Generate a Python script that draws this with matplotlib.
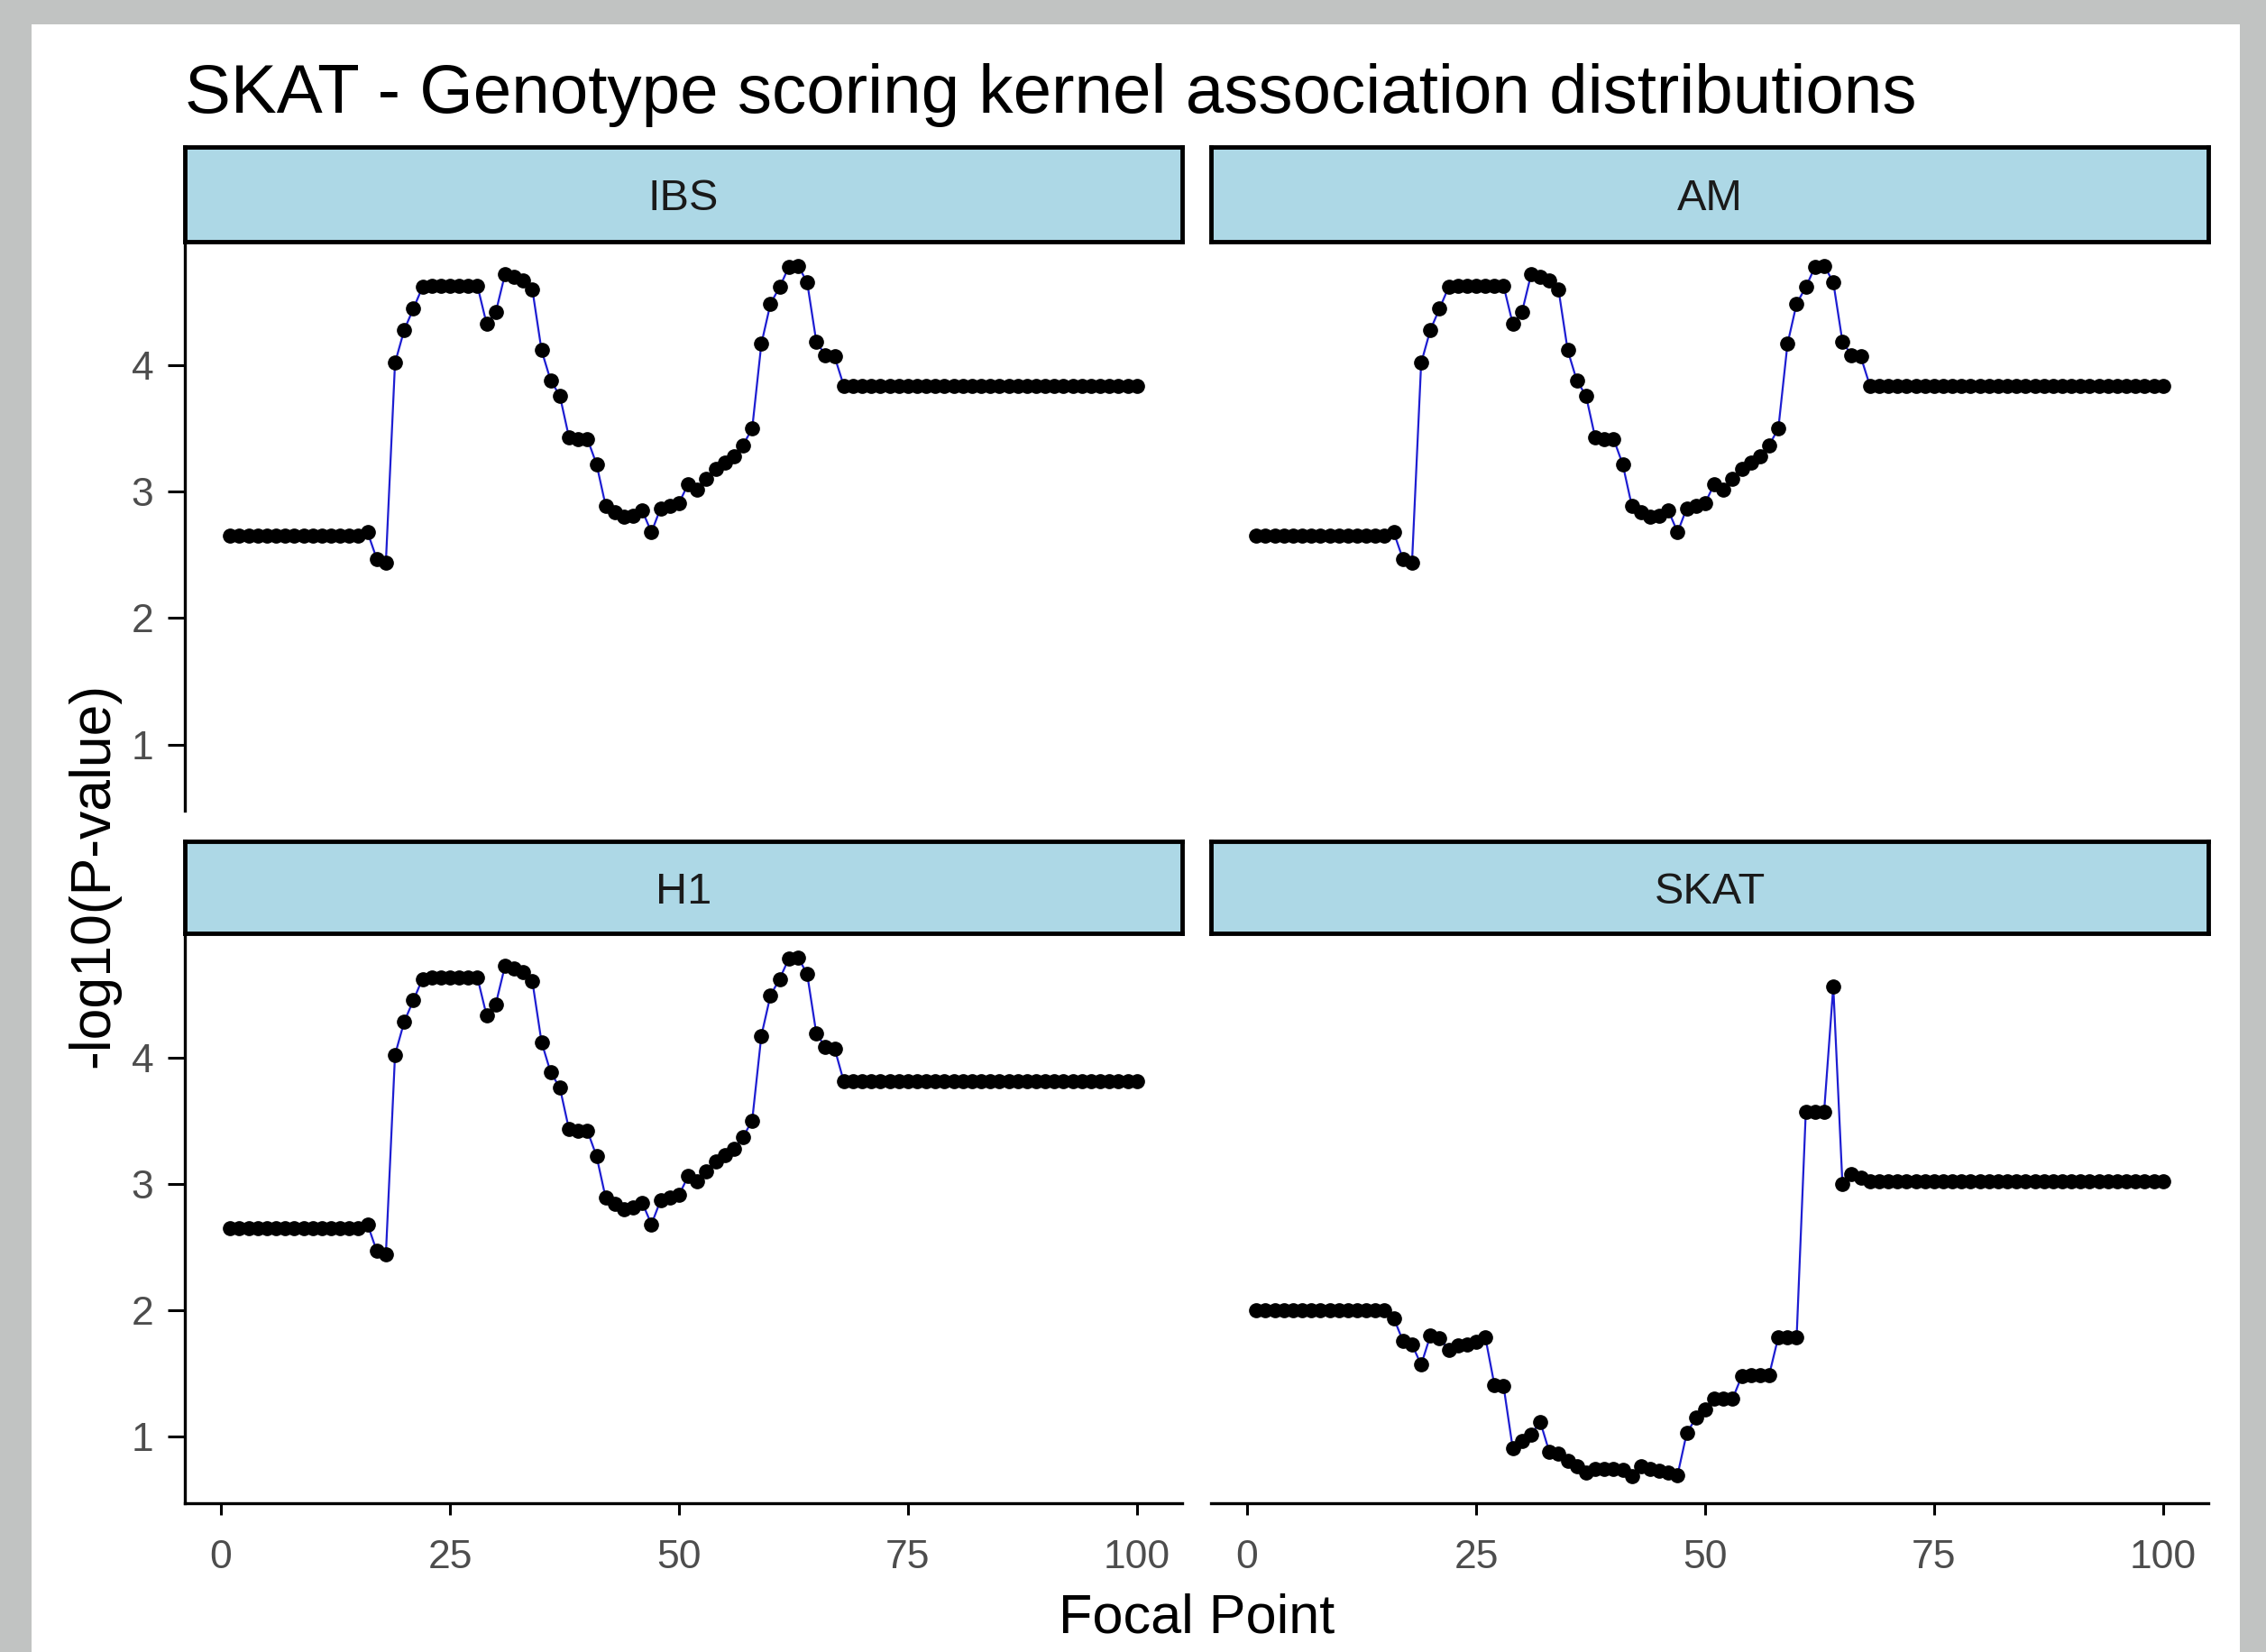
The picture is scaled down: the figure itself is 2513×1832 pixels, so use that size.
import numpy as np
import matplotlib
matplotlib.use('Agg')
import matplotlib.pyplot as plt
from matplotlib.patches import Rectangle

plt.rcParams['font.family'] = ['Liberation Sans', 'DejaVu Sans']

# focal points 1..100
focal = np.arange(1, 101)

ibs = [2.65, 2.65, 2.65, 2.65, 2.65, 2.65, 2.65, 2.65, 2.65, 2.65,
       2.65, 2.65, 2.65, 2.65, 2.65, 2.68, 2.47, 2.44, 4.02, 4.28,
       4.45, 4.62, 4.63, 4.63, 4.63, 4.63, 4.63, 4.63, 4.33, 4.42,
       4.72, 4.70, 4.67, 4.60, 4.12, 3.88, 3.76, 3.43, 3.42, 3.42,
       3.22, 2.89, 2.84, 2.80, 2.81, 2.85, 2.68, 2.87, 2.89, 2.91,
       3.06, 3.02, 3.10, 3.18, 3.23, 3.28, 3.37, 3.50, 4.17, 4.49,
       4.62, 4.78, 4.79, 4.66, 4.19, 4.08, 4.07, 3.84, 3.84, 3.84,
       3.84, 3.84, 3.84, 3.84, 3.84, 3.84, 3.84, 3.84, 3.84, 3.84,
       3.84, 3.84, 3.84, 3.84, 3.84, 3.84, 3.84, 3.84, 3.84, 3.84,
       3.84, 3.84, 3.84, 3.84, 3.84, 3.84, 3.84, 3.84, 3.84, 3.84]

am = [2.65, 2.65, 2.65, 2.65, 2.65, 2.65, 2.65, 2.65, 2.65, 2.65,
      2.65, 2.65, 2.65, 2.65, 2.65, 2.68, 2.47, 2.44, 4.02, 4.28,
      4.45, 4.62, 4.63, 4.63, 4.63, 4.63, 4.63, 4.63, 4.33, 4.42,
      4.72, 4.70, 4.67, 4.60, 4.12, 3.88, 3.76, 3.43, 3.42, 3.42,
      3.22, 2.89, 2.84, 2.80, 2.81, 2.85, 2.68, 2.87, 2.89, 2.91,
      3.06, 3.02, 3.10, 3.18, 3.23, 3.28, 3.37, 3.50, 4.17, 4.49,
      4.62, 4.78, 4.79, 4.66, 4.19, 4.08, 4.07, 3.84, 3.84, 3.84,
      3.84, 3.84, 3.84, 3.84, 3.84, 3.84, 3.84, 3.84, 3.84, 3.84,
      3.84, 3.84, 3.84, 3.84, 3.84, 3.84, 3.84, 3.84, 3.84, 3.84,
      3.84, 3.84, 3.84, 3.84, 3.84, 3.84, 3.84, 3.84, 3.84, 3.84]

h1 = [2.65, 2.65, 2.65, 2.65, 2.65, 2.65, 2.65, 2.65, 2.65, 2.65,
      2.65, 2.65, 2.65, 2.65, 2.65, 2.68, 2.47, 2.44, 4.02, 4.28,
      4.45, 4.62, 4.63, 4.63, 4.63, 4.63, 4.63, 4.63, 4.33, 4.42,
      4.72, 4.70, 4.67, 4.60, 4.12, 3.88, 3.76, 3.43, 3.42, 3.42,
      3.22, 2.89, 2.84, 2.80, 2.81, 2.85, 2.68, 2.87, 2.89, 2.91,
      3.06, 3.02, 3.10, 3.18, 3.23, 3.28, 3.37, 3.50, 4.17, 4.49,
      4.62, 4.78, 4.79, 4.66, 4.19, 4.08, 4.07, 3.81, 3.81, 3.81,
      3.81, 3.81, 3.81, 3.81, 3.81, 3.81, 3.81, 3.81, 3.81, 3.81,
      3.81, 3.81, 3.81, 3.81, 3.81, 3.81, 3.81, 3.81, 3.81, 3.81,
      3.81, 3.81, 3.81, 3.81, 3.81, 3.81, 3.81, 3.81, 3.81, 3.81]

skat = [2.00, 2.00, 2.00, 2.00, 2.00, 2.00, 2.00, 2.00, 2.00, 2.00,
        2.00, 2.00, 2.00, 2.00, 2.00, 1.94, 1.76, 1.73, 1.57, 1.80,
        1.78, 1.69, 1.72, 1.73, 1.75, 1.79, 1.41, 1.40, 0.91, 0.97,
        1.02, 1.12, 0.88, 0.87, 0.81, 0.77, 0.72, 0.75, 0.75, 0.75,
        0.74, 0.69, 0.77, 0.75, 0.73, 0.72, 0.70, 1.03, 1.15, 1.22,
        1.30, 1.30, 1.30, 1.48, 1.49, 1.49, 1.49, 1.79, 1.79, 1.79,
        3.57, 3.57, 3.57, 4.56, 3.00, 3.08, 3.05, 3.02, 3.02, 3.02,
        3.02, 3.02, 3.02, 3.02, 3.02, 3.02, 3.02, 3.02, 3.02, 3.02,
        3.02, 3.02, 3.02, 3.02, 3.02, 3.02, 3.02, 3.02, 3.02, 3.02,
        3.02, 3.02, 3.02, 3.02, 3.02, 3.02, 3.02, 3.02, 3.02, 3.02]

panel_names = ['IBS', 'AM', 'H1', 'SKAT']
panel_data = [ibs, am, h1, skat]
x_ticks = [0, 25, 50, 75, 100]
y_ticks = [1, 2, 3, 4]

W, H = 2513, 1832
fig = plt.figure(figsize=(W / 100, H / 100), dpi=100)
fig.patch.set_facecolor('#c1c3c2')
# white card inside the grey frame (behind everything)
fig.patches.append(Rectangle((35 / W, 0), (2484 - 35) / W, 1 - 27 / H,
                             transform=fig.transFigure, facecolor='white',
                             edgecolor='none', zorder=-10))

# panel boxes in pixels: (left, right), (top, bottom)
cols = [(205, 1311), (1343, 2449)]
rows = [(268, 899), (1035, 1667)]
strips = [(163, 268), (933, 1035)]

for k in range(4):
    r, c = divmod(k, 2)
    x0, x1 = cols[c]
    t, b = rows[r]
    ax = fig.add_axes([x0 / W, 1 - b / H, (x1 - x0) / W, (b - t) / H])
    ax.plot(focal, panel_data[k], color='#1e1ed2', lw=1.6, zorder=2)
    ax.plot(focal, panel_data[k], 'o', color='black', ms=11, zorder=3)
    ax.set_xlim(-3.95, 104.95)
    ax.set_ylim(0.476, 4.98)
    ax.set_xticks(x_ticks)
    ax.set_yticks(y_ticks)
    for s in ['top', 'right']:
        ax.spines[s].set_visible(False)
    ax.spines['left'].set_linewidth(2.4)
    ax.spines['bottom'].set_linewidth(2.4)
    ax.tick_params(width=2.2, labelsize=32, labelcolor='#4d4d4d')
    ax.tick_params(axis='y', length=14, pad=11)
    ax.tick_params(axis='x', length=9.5, pad=19)
    if c == 1:
        ax.spines['left'].set_visible(False)
        ax.tick_params(axis='y', left=False, labelleft=False)
    if r == 0:
        ax.spines['bottom'].set_visible(False)
        ax.tick_params(axis='x', bottom=False, labelbottom=False)

    # facet strip
    st, sb = strips[r]
    sax = fig.add_axes([x0 / W, 1 - sb / H, (x1 - x0) / W, (sb - st) / H])
    sax.set_facecolor('#add8e6')
    sax.set_xticks([])
    sax.set_yticks([])
    for s in sax.spines.values():
        s.set_linewidth(3.5)
        s.set_color('black')
    sax.text(0.5, 0.45, panel_names[k], ha='center', va='center',
             fontsize=35, color='#1a1a1a', transform=sax.transAxes)

fig.text(205 / W, 1 - 125 / H,
         'SKAT - Genotype scoring kernel association distributions',
         fontsize=55, ha='left', va='baseline', color='black')
fig.text(104 / W, 1 - 970 / H, '-log10(P-value)', rotation=90,
         fontsize=45, ha='center', va='center')
fig.text(1327 / W, 1 - 1795 / H, 'Focal Point', fontsize=44,
         ha='center', va='center')

fig.savefig('out.png', dpi=100, facecolor=fig.get_facecolor())
